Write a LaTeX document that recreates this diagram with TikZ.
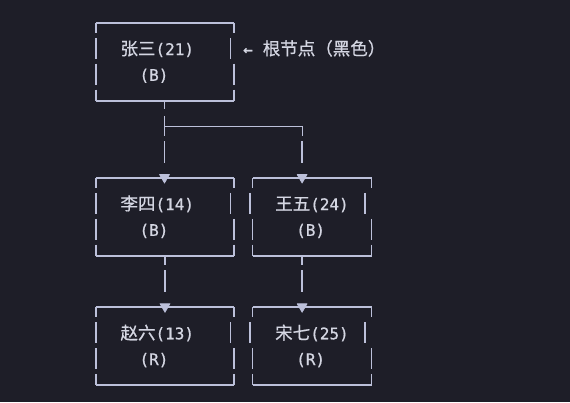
\documentclass[tikz,border=0pt]{standalone}
\usepackage{fontspec}
\setmonofont[FakeBold=0.8]{DejaVu Sans Mono}
\newfontfamily\cjk[FakeBold=0.7]{Noto Sans CJK SC}
\usetikzlibrary{fit}
\definecolor{bgc}{RGB}{30,30,40}
\definecolor{lnc}{RGB}{188,192,218}
\definecolor{txc}{RGB}{212,214,226}
\newcommand\asciibox[6]{% name, L, R, T, Lt, Rt
  \node[fit={({#2},{#4}) ({#3},{#4+77.55})}, inner sep=0pt] (#1) {};
  \draw[bline] (#1.north west) -- (#1.north east);
  \draw[bline] (#1.south west) -- (#1.south east);
  \foreach \xa/\xb in {#2/#5,#3/#6}{
    \draw[bline] (\xa,{#4}) -- (\xa,{#4+10});
    \draw[bline] (\xb,{#4+14.85}) -- (\xb,{#4+35.85});
    \draw[bline] (\xa,{#4+40.7}) -- (\xa,{#4+61.7});
    \draw[bline] (\xa,{#4+66.55}) -- (\xa,{#4+77.55});
  }}
\newcommand\zh[1]{{\cjk\fontsize{17.5}{17.5}\selectfont #1}}
\begin{document}
\begin{tikzpicture}[x=1pt,y=-1pt,
  bline/.style={draw=lnc, line width=1.5pt},
  lbl/.style={anchor=base west, inner sep=0pt, text=txc, font=\ttfamily\fontsize{16}{16}\selectfont},
  tip/.style={fill=lnc, draw=lnc, line width=0.6pt, line join=round}]
\fill[bgc] (0,0) rectangle (570,402);
\useasboundingbox (0,0) rectangle (570,402);

% boxes
\asciibox{root}{96}{234}{23}{96}{230.7}
\asciibox{li}{96}{234}{178.1}{96}{230.7}
\asciibox{wang}{252.7}{371.7}{178.1}{250}{365}
\asciibox{zhao}{96}{234}{307.35}{96}{230.7}
\asciibox{song}{252.7}{371.7}{307.35}{250}{365}

% texts
\node[lbl] (rootname) at (120.3,55) {\zh{张三}(21)};
\node[lbl] (rootcol) at (139.3,80.8) {(B)};
\node[lbl] (liname) at (120.3,210.1) {\zh{李四}(14)};
\node[lbl] (licol) at (139.3,235.9) {(B)};
\node[lbl] (wangname) at (275,210.1) {\zh{王五}(24)};
\node[lbl] (wangcol) at (296,235.9) {(B)};
\node[lbl] (zhaoname) at (120.3,339.3) {\zh{赵六}(13)};
\node[lbl] (zhaocol) at (139.3,365.1) {(R)};
\node[lbl] (songname) at (275,339.3) {\zh{宋七}(25)};
\node[lbl] (songcol) at (296,365.1) {(R)};
\node[lbl] (note) at (243,55) {←\hspace{10pt}\zh{根节点（黑色）}};

% connector anchors
\coordinate (rootout) at ([xshift=-0.5pt]root.south);
\coordinate (liin) at (rootout |- li.north);
\coordinate (join) at (164.5,126.7);
\coordinate (wangin) at ([xshift=49.6pt]wang.north west);
\coordinate (liout) at (li.south);
\coordinate (zhaoin) at (zhao.north);
\coordinate (wangout) at (wangin |- wang.south);
\coordinate (songin) at (wangin |- song.north);

% root -> li / wang
\draw[bline] (rootout) -- ++(0,7.8);
\draw[bline] (rootout) ++(0,15.2) -- (join) -- ++(0,8.8);
\draw[bline] (join) -| ++(137.8,9.3);
\draw[bline] (liin) ++(0,-36.6) -- ++(0,21.5);
\draw[bline] (wangin) ++(0,-36.6) -- ++(0,21.5);
\filldraw[tip] (liin) ++(-5,-3.4) -- ++(10,0) -- ++(-5,8.6) -- cycle;
\filldraw[tip] (wangin) ++(-5,-3.4) -- ++(10,0) -- ++(-5,8.6) -- cycle;

% li -> zhao, wang -> song
\draw[bline] (liout) -- ++(0,9.5);
\draw[bline] (liout) ++(0,14.5) -- ++(0,21.7);
\draw[bline] (wangout) -- ++(0,9.5);
\draw[bline] (wangout) ++(0,14.5) -- ++(0,21.7);
\filldraw[tip] (zhaoin) ++(-5,-3.4) -- ++(10,0) -- ++(-5,8.6) -- cycle;
\filldraw[tip] (songin) ++(-5,-3.4) -- ++(10,0) -- ++(-5,8.6) -- cycle;
\end{tikzpicture}
\end{document}
